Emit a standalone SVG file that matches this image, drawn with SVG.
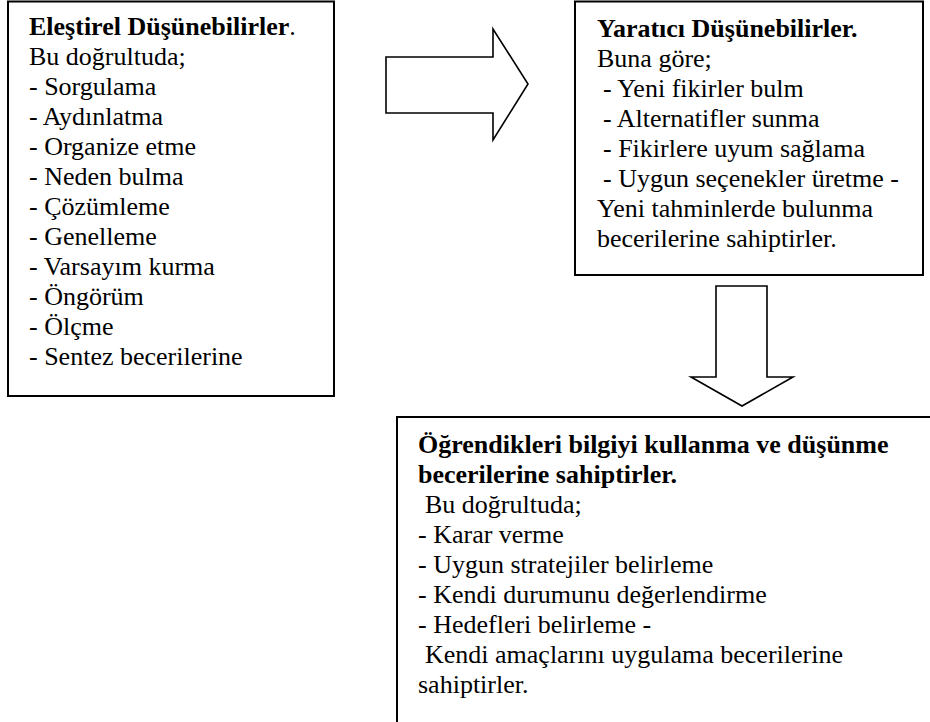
<svg xmlns="http://www.w3.org/2000/svg" width="930" height="722" viewBox="0 0 930 722">
<style>
.box{fill:#fff;stroke:#000;stroke-width:2}
.arr{fill:#fff;stroke:#000;stroke-width:1.6;stroke-linejoin:miter}
text{font-family:"Liberation Serif","Times New Roman",serif;font-size:26px;fill:#000}
.b{font-weight:bold}
</style>
<rect width="930" height="722" fill="#fff"/>
<g id="connectors">
<polygon class="arr" points="386,57 493,57 493,29 528,84 493,140 493,113 386,113"/>
<polygon class="arr" points="716,286 767,286 767,377 793,377 742,406 691,377 716,377"/>
</g>
<g id="node-elestirel">
<rect class="box" x="8" y="1.5" width="326" height="394.5"/>
<text x="29" y="35"><tspan class="b">Eleştirel Düşünebilirler</tspan>.</text>
<text x="29" y="65">Bu doğrultuda;</text>
<text x="29" y="95">- Sorgulama</text>
<text x="29" y="125">- Aydınlatma</text>
<text x="29" y="155">- Organize etme</text>
<text x="29" y="185">- Neden bulma</text>
<text x="29" y="215">- Çözümleme</text>
<text x="29" y="245">- Genelleme</text>
<text x="29" y="275">- Varsayım kurma</text>
<text x="29" y="305">- Öngörüm</text>
<text x="29" y="335">- Ölçme</text>
<text x="29" y="365">- Sentez becerilerine</text>
</g>
<g id="node-yaratici">
<rect class="box" x="575" y="1.5" width="348" height="273.5"/>
<text x="597" y="37" class="b">Yaratıcı Düşünebilirler.</text>
<text x="597" y="67">Buna göre;</text>
<text x="603" y="97">- Yeni fikirler bulm</text>
<text x="603" y="127">- Alternatifler sunma</text>
<text x="603" y="157">- Fikirlere uyum sağlama</text>
<text x="603" y="187">- Uygun seçenekler üretme -</text>
<text x="597" y="217">Yeni tahminlerde bulunma</text>
<text x="597" y="247">becerilerine sahiptirler.</text>
</g>
<g id="node-ogrendikleri">
<rect class="box" x="397" y="417" width="600" height="400"/>
<text x="418" y="453" class="b">Öğrendikleri bilgiyi kullanma ve düşünme</text>
<text x="418" y="483" class="b">becerilerine sahiptirler.</text>
<text x="425" y="513">Bu doğrultuda;</text>
<text x="418" y="543">- Karar verme</text>
<text x="418" y="573">- Uygun stratejiler belirleme</text>
<text x="418" y="603">- Kendi durumunu değerlendirme</text>
<text x="418" y="633">- Hedefleri belirleme -</text>
<text x="425" y="663">Kendi amaçlarını uygulama becerilerine</text>
<text x="418" y="693">sahiptirler.</text>
</g>
</svg>
